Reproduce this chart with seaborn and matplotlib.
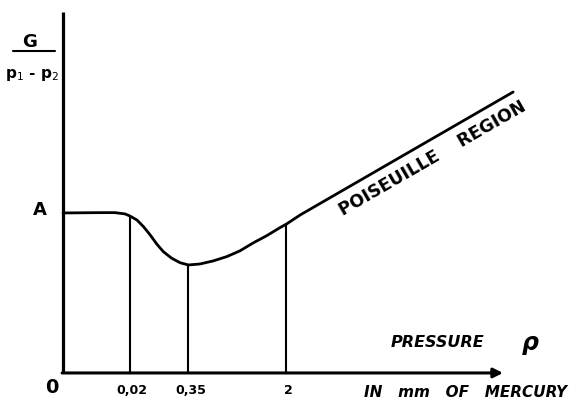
import matplotlib
matplotlib.use("Agg")
import matplotlib.pyplot as plt
import seaborn as sns
import pandas as pd

# curve (x: position along pressure axis, y: G/(p1-p2), A = 1)
pressure_pos = [0.0, 0.84, 1.18, 1.41, 1.52, 1.68, 1.83, 1.98, 2.13, 2.28, 2.47,
                2.66, 2.85, 3.11, 3.41, 3.72, 4.02, 4.32, 4.63, 4.93, 5.08, 5.39, 10.23]
flow = [1.0, 1.002, 1.002, 0.994, 0.981, 0.956, 0.914, 0.863, 0.806, 0.758, 0.717,
        0.689, 0.675, 0.681, 0.700, 0.727, 0.763, 0.8125, 0.858, 0.908, 0.931, 0.9875, 1.756]

tick_pos = [1.52, 2.85, 5.07]
tick_labels = ["0,02", "0,35", "2"]
drop_heights = [0.981, 0.675, 0.931]

level_A = 1.0


def main():
    sns.set_style("white")
    plt.rcParams["font.family"] = ["DejaVu Sans"]
    plt.rcParams["text.color"] = "black"

    fig = plt.figure(figsize=(5.82, 4.0), dpi=100)
    ax = fig.add_axes([0, 0, 1, 1])
    ax.set_xlim(-1.432, 11.795)
    ax.set_ylim(-0.169, 2.331)
    ax.axis("off")

    df = pd.DataFrame({"p": pressure_pos, "g": flow})
    sns.lineplot(data=df, x="p", y="g", ax=ax, color="black", lw=2.0,
                 sort=False, legend=False)

    # drop lines from the curve to the pressure axis
    for xp, h in zip(tick_pos, drop_heights):
        ax.plot([xp, xp], [0, h], color="black", lw=1.5)

    # axes drawn by hand
    ax.plot([0, 0], [0, 2.256], color="black", lw=2.3, solid_capstyle="butt")
    ax.annotate("", xy=(10.0, 0), xytext=(-0.02, 0),
                arrowprops=dict(arrowstyle="-|>", lw=2.2, color="black",
                                mutation_scale=14, shrinkA=0, shrinkB=0))

    # tick labels
    for xp, lab in zip(tick_pos, tick_labels):
        ax.text(xp + 0.05, -0.11, lab, ha="center", va="center",
                fontsize=9, fontweight="bold", color="black")
    ax.text(-0.26, -0.09, "0", ha="center", va="center", fontsize=14,
            fontweight="bold", color="black")
    ax.text(-0.52, level_A + 0.02, "A", ha="center", va="center", fontsize=13,
            fontweight="bold", color="black")

    # y label as a fraction
    ax.text(-0.75, 2.07, "G", ha="center", va="center", fontsize=13,
            fontweight="bold", color="black")
    ax.plot([-1.14, -0.18], [2.013, 2.013], color="black", lw=1.5)
    ax.text(-0.7, 1.86, "p$_1$ - p$_2$", ha="center", va="center", fontsize=11,
            fontweight="bold", color="black")

    # axis captions
    ax.text(8.52, 0.19, "PRESSURE", ha="center", va="center", fontsize=11.5,
            fontweight="bold", fontstyle="italic", color="black")
    ax.text(10.62, 0.19, "ρ", ha="center", va="center", fontsize=17,
            fontstyle="italic", fontweight="bold", color="black")
    ax.text(9.14, -0.12, "IN   mm   OF   MERCURY", ha="center", va="center",
            fontsize=11, fontweight="bold", fontstyle="italic", color="black")

    ax.text(8.4, 1.34, "POISEUILLE    REGION", ha="center", va="center",
            rotation=30, rotation_mode="anchor", fontsize=12.5, fontweight="bold",
            color="black")

    fig.savefig("out.png", dpi=100, facecolor="white")
    plt.close(fig)


if __name__ == "__main__":
    main()
